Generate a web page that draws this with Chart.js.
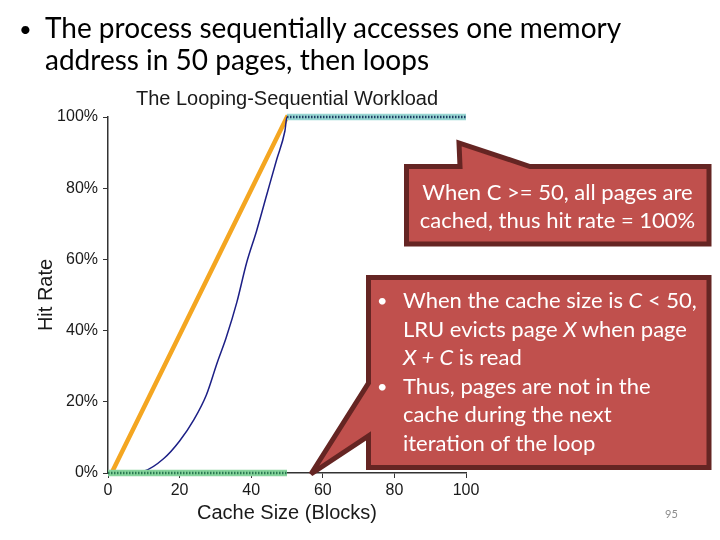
<!DOCTYPE html>
<html>
<head>
<meta charset="utf-8">
<script src="https://cdn.jsdelivr.net/npm/chart.js@4/dist/chart.umd.min.js"></script>
<style>
  html, body { margin: 0; padding: 0; background: #fff; }
  #stage { position: relative; width: 720px; height: 540px; overflow: hidden; background: #fff; }
  #c { position: absolute; left: 0; top: 0; }
  #ov { position: absolute; left: 0; top: 0; }
</style>
</head>
<body>
<div id="stage">
  <canvas id="c" width="720" height="540"></canvas>
  <svg id="ov" width="720" height="540" xmlns="http://www.w3.org/2000/svg">
    <g font-family="Lato, 'Open Sans', sans-serif" fill="#000">
      <text x="19" y="37" font-size="22">•</text>
      <text x="45" y="38" font-size="28">The process sequentially accesses one memory</text>
      <text x="45" y="70" font-size="28">address in 50 pages, then loops</text>
    </g>
    <path d="M406.5,166.5 L460,166.5 L459,143 L530,166.5 L709,166.5 L709,244 L406.5,244 Z"
          fill="#C0504D" stroke="#652523" stroke-width="5" stroke-linejoin="miter"/>
    <path d="M368.5,277.5 L709,277.5 L709,467.5 L368.5,467.5 L368.5,436 L311,474 L368.5,383 Z"
          fill="#C0504D" stroke="#652523" stroke-width="5" stroke-linejoin="miter"/>
    <g font-family="Lato, 'Open Sans', sans-serif" font-size="22" fill="#fff">
      <text x="557.5" y="200" text-anchor="middle">When C &gt;= 50, all pages are</text>
      <text x="557.5" y="228" text-anchor="middle">cached, thus hit rate = 100%</text>
      <text x="377" y="307" font-size="18">•</text>
      <text x="403" y="308">When the cache size is <tspan font-style="italic">C</tspan> &lt; 50,</text>
      <text x="403" y="337">LRU evicts page <tspan font-style="italic">X</tspan> when page</text>
      <text x="403" y="365"><tspan font-style="italic">X + C</tspan> is read</text>
      <text x="377" y="393" font-size="18">•</text>
      <text x="403" y="394">Thus, pages are not in the</text>
      <text x="403" y="422">cache during the next</text>
      <text x="403" y="451">iteration of the loop</text>
    </g>
    <text x="665" y="518" font-family="Lato, sans-serif" font-size="11" fill="#8c8c8c">95</text>
  </svg>
</div>
<script>
// ---- data ----
const xTickValues = [0, 20, 40, 60, 80, 100];
const xTickLabels = ['0', '20', '40', '60', '80', '100'];
const yTickValues = [0, 20, 40, 60, 80, 100];
const yTickLabels = ['0%', '20%', '40%', '60%', '80%', '100%'];

// OPT (orange)
const optSizes = [1, 50, 100];
const optHits  = [0, 100, 100];

// RAND (navy curve)
const randSizes = [0, 5, 10, 15.5, 20, 24, 27.5, 30.5, 33, 36, 38.7, 41.5, 44.3, 47.1, 49.4, 50, 100];
const randHits  = [0, 0, 0.5, 4, 9, 15, 22, 31, 38, 48, 59, 68, 78, 88, 96, 100, 100];

// LRU (light band) and FIFO (dotted) — 0% below 50 blocks, 100% from 50 blocks
const lruSizes  = [0, 10, 20, 30, 40, 50, 50, 60, 70, 80, 90, 100];
const lruHits   = [0, 0, 0, 0, 0, 0, 100, 100, 100, 100, 100, 100];
const fifoSizes = [0, 10, 20, 30, 40, 50, 50, 60, 70, 80, 90, 100];
const fifoHits  = [0, 0, 0, 0, 0, 0, 100, 100, 100, 100, 100, 100];

const pts = (xs, ys) => xs.map((x, i) => ({ x: x, y: ys[i] }));
const hideJump = (low, high) => ctx =>
  ctx.p0.parsed.y !== ctx.p1.parsed.y ? 'rgba(0,0,0,0)' : (ctx.p0.parsed.y > 50 ? high : low);

const FONT = "'Liberation Sans', Arial, sans-serif";

new Chart(document.getElementById('c'), {
  type: 'line',
  data: {
    datasets: [
      {
        label: 'FIFO', data: pts(fifoSizes, fifoHits),
        borderWidth: 2.5, borderDash: [1.5, 1.5], pointRadius: 0, clip: false,
        borderColor: '#1f4a6a',
        segment: { borderColor: hideJump('#2a7a52', '#1d3d63') }
      },
      {
        label: 'LRU', data: pts(lruSizes, lruHits),
        borderWidth: 6.5, pointRadius: 0, clip: false, borderCapStyle: 'butt',
        borderColor: '#9ed8c0',
        segment: { borderColor: hideJump('#86d49c', '#98d6d2') }
      },
      {
        label: 'RAND', data: pts(randSizes, randHits),
        borderWidth: 1.5, pointRadius: 0, clip: false, cubicInterpolationMode: 'monotone',
        borderColor: '#1c1f86'
      },
      {
        label: 'OPT', data: pts(optSizes, optHits),
        borderWidth: 4.5, pointRadius: 0, clip: false,
        borderColor: '#F4A621'
      }
    ]
  },
  options: {
    responsive: false,
    animation: false,
    events: [],
    layout: { padding: { left: 30, right: 254, top: 81, bottom: 11 } },
    plugins: {
      legend: { display: false },
      tooltip: { enabled: false },
      title: {
        display: true, text: 'The Looping-Sequential Workload', fullSize: false,
        color: '#1a1a1a', font: { family: FONT, size: 20, weight: 'normal' },
        padding: { top: 6, bottom: 6 }
      }
    },
    scales: {
      x: {
        type: 'linear', min: 0, max: 100,
        afterBuildTicks: s => { s.ticks = xTickValues.map(v => ({ value: v })); },
        afterFit: s => { s.height = 56; s.paddingLeft = 0; s.paddingRight = 0; },
        ticks: { callback: (v, i) => xTickLabels[i], color: '#1a1a1a', padding: 3,
                 font: { family: FONT, size: 16 }, maxRotation: 0 },
        grid: { drawOnChartArea: false, drawTicks: true, tickLength: 5, color: '#333', lineWidth: 1 },
        border: { display: true, color: '#333', width: 1.5 },
        title: { display: true, text: 'Cache Size (Blocks)', color: '#1a1a1a',
                 font: { family: FONT, size: 20 }, padding: { top: 4, bottom: 4 } }
      },
      y: {
        type: 'linear', min: 0, max: 100,
        afterBuildTicks: s => { s.ticks = yTickValues.map(v => ({ value: v })); },
        afterFit: s => { s.width = 78; s.paddingTop = 0; s.paddingBottom = 0; },
        ticks: { callback: (v, i) => yTickLabels[i], color: '#1a1a1a', padding: 5,
                 font: { family: FONT, size: 16 } },
        grid: { drawOnChartArea: false, drawTicks: true, tickLength: 5, color: '#333', lineWidth: 1 },
        border: { display: true, color: '#333', width: 1.5 },
        title: { display: true, text: 'Hit Rate', color: '#1a1a1a',
                 font: { family: FONT, size: 20 }, padding: { top: 4, bottom: 4 } }
      }
    }
  }
});
</script>
</body>
</html>
